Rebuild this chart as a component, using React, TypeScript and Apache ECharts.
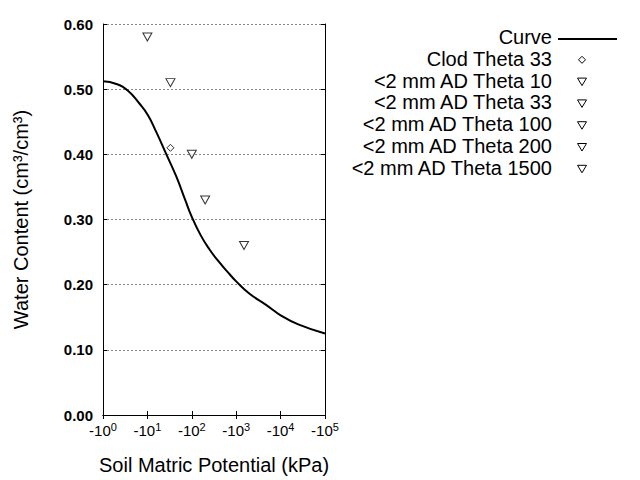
import React, { useEffect, useRef } from "react";
import * as echarts from "echarts";

// Fitted retention curve (kPa, volumetric water content)
const curvePotential = [1, 2, 3.6, 6.6, 10.3, 15.9, 26.3, 44.7, 71, 100, 158, 251, 398, 631, 1000, 2000, 4700, 10000, 25000, 100000];
const curveTheta = [0.512, 0.508, 0.498, 0.478, 0.46, 0.434, 0.401, 0.366, 0.33, 0.304, 0.276, 0.254, 0.236, 0.22, 0.205, 0.186, 0.169, 0.153, 0.139, 0.125];

// Clod measurement
const clodName = "Clod Theta 33";
const clodPotential = [33];
const clodTheta = [0.41];

// <2 mm air-dry measurements
const adNames = [
  "<2 mm AD Theta 10",
  "<2 mm AD Theta 33",
  "<2 mm AD Theta 100",
  "<2 mm AD Theta 200",
  "<2 mm AD Theta 1500",
];
const adPotential = [10, 33, 100, 200, 1500];
const adTheta = [0.58, 0.51, 0.4, 0.33, 0.26];

const xTicks = [1, 10, 100, 1000, 10000, 100000];
const yMin = 0;
const yMax = 0.6;
const yStep = 0.1;

const FONT = "Liberation Sans, Arial, sans-serif";

export default function App() {
  const ref = useRef<HTMLDivElement>(null);
  useEffect(() => {
    if (!ref.current) return;
    const chart = echarts.init(ref.current, null, { renderer: "svg" });

    const legendNames = ["Curve", clodName, ...adNames];
    const legendGraphics: any[] = [];
    legendNames.forEach((n, i) => {
      const cy = 37 + i * 21.8;
      legendGraphics.push({
        type: "text",
        x: 552,
        y: cy,
        style: {
          text: n,
          fontSize: 20,
          fontFamily: FONT,
          fill: "#000",
          align: "right",
          verticalAlign: "middle",
        },
      });
      if (i === 0) {
        legendGraphics.push({
          type: "line",
          shape: { x1: 558, y1: cy + 2, x2: 617, y2: cy + 2 },
          style: { stroke: "#000", lineWidth: 2 },
        });
      } else if (i === 1) {
        legendGraphics.push({
          type: "polygon",
          x: 582,
          y: cy + 1,
          shape: { points: [[0, -3.5], [3.5, 0], [0, 3.5], [-3.5, 0]] },
          style: { fill: "#fff", stroke: "#000", lineWidth: 1 },
        });
      } else {
        legendGraphics.push({
          type: "polygon",
          x: 582,
          y: cy + 1,
          shape: { points: [[-4.5, -3.5], [4.5, -3.5], [0, 4]] },
          style: { fill: "#fff", stroke: "#000", lineWidth: 1 },
        });
      }
    });

    const xCommon = {
      type: "log",
      logBase: 10,
      min: xTicks[0],
      max: xTicks[xTicks.length - 1],
    };
    const yCommon = {
      type: "value",
      min: yMin,
      max: yMax,
      interval: yStep,
    };

    chart.setOption({
      animation: false,
      backgroundColor: "#fff",
      textStyle: { fontFamily: FONT },
      grid: { left: 103, top: 24, width: 222, height: 392, containLabel: false },
      xAxis: [
        {
          ...xCommon,
          position: "bottom",
          name: "Soil Matric Potential (kPa)",
          nameLocation: "middle",
          nameGap: 40,
          nameTextStyle: { fontSize: 20, color: "#000", fontFamily: FONT, verticalAlign: "top" },
          axisLine: { show: true, lineStyle: { color: "#000", width: 1 } },
          axisTick: { show: true, inside: true, length: 4, lineStyle: { color: "#000" } },
          minorTick: { show: false },
          splitLine: { show: false },
          axisLabel: {
            margin: 6,
            color: "#000",
            formatter: (v: number) => `{b|-10}{s|${Math.round(Math.log10(v))}}`,
            rich: {
              b: { fontSize: 15, fontFamily: FONT, color: "#000", verticalAlign: "bottom", lineHeight: 17, padding: [4, 0, 0, 0] },
              s: { fontSize: 11, fontFamily: FONT, color: "#000", verticalAlign: "top", lineHeight: 11 },
            },
          },
        },
        {
          ...xCommon,
          position: "top",
          axisLine: { show: true, lineStyle: { color: "#000", width: 1 } },
          axisTick: { show: true, inside: true, length: 4, lineStyle: { color: "#000" } },
          axisLabel: { show: false },
          splitLine: { show: false },
        },
      ],
      yAxis: [
        {
          ...yCommon,
          position: "left",
          name: "Water Content (cm³/cm³)",
          nameLocation: "middle",
          nameGap: 72,
          nameTextStyle: { fontSize: 20, color: "#000", fontFamily: FONT },
          axisLine: { show: true, lineStyle: { color: "#000", width: 1 } },
          axisTick: { show: true, inside: true, length: 4, lineStyle: { color: "#000" } },
          splitLine: { show: true, lineStyle: { color: "#888", type: [2, 2], width: 1 } },
          axisLabel: {
            margin: 10,
            fontSize: 15,
            fontWeight: "bold",
            color: "#000",
            fontFamily: FONT,
            formatter: (v: number) => v.toFixed(2),
          },
        },
        {
          ...yCommon,
          position: "right",
          axisLine: { show: true, lineStyle: { color: "#000", width: 1 } },
          axisTick: { show: true, inside: true, length: 4, lineStyle: { color: "#000" } },
          axisLabel: { show: false },
          splitLine: { show: false },
        },
      ],
      series: [
        {
          name: "Curve",
          type: "line",
          xAxisIndex: 0,
          yAxisIndex: 0,
          data: curvePotential.map((p, i) => [p, curveTheta[i]]),
          showSymbol: false,
          smooth: 0.5,
          lineStyle: { color: "#000", width: 2 },
          z: 3,
        },
        {
          name: clodName,
          type: "scatter",
          xAxisIndex: 0,
          yAxisIndex: 0,
          data: clodPotential.map((p, i) => [p, clodTheta[i]]),
          symbol: "diamond",
          symbolSize: 7,
          itemStyle: { color: "#fff", borderColor: "#000", borderWidth: 1 },
          z: 4,
        },
        ...adNames.map((n, i) => ({
          name: n,
          type: "scatter",
          xAxisIndex: 0,
          yAxisIndex: 0,
          data: [[adPotential[i], adTheta[i]]],
          symbol: "triangle",
          symbolRotate: 180,
          symbolSize: [9, 8],
          itemStyle: { color: "#fff", borderColor: "#000", borderWidth: 1 },
          z: 4,
        })),
      ],
      graphic: legendGraphics,
    });

    return () => chart.dispose();
  }, []);

  return <div ref={ref} style={{ width: 640, height: 480, position: "absolute", left: 0, top: 0 }} />;
}
